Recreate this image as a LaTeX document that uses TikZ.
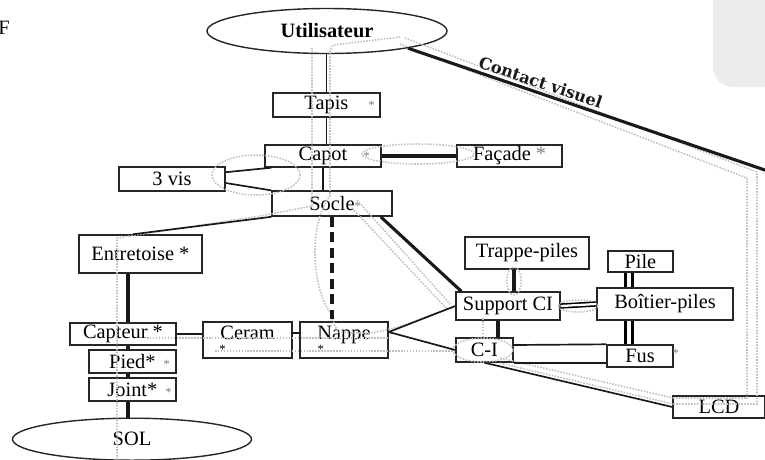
\documentclass[tikz,border=0pt]{standalone}
\usepackage{fontspec}
\setmainfont{Liberation Serif}
\newfontfamily\visfont{DejaVu Serif}
\usepackage{tikz}
\usetikzlibrary{arrows, shapes, calc}
\tikzset{-, font=\fontsize{14.5}{16}\selectfont,
  part/.style={rectangle,draw=black!85,line width=1pt,inner sep=1pt},
  actor/.style={ellipse,draw=black!85,line width=1pt,inner sep=0pt},
  link/.style={line width=1.2pt,black!90},
  heavy/.style={line width=2.2pt,black!90},
  flow/.style={gray!50,densely dotted,line width=1.1pt}}
\newcommand{\gstar}[1]{\rlap{\hspace{#1}\textcolor{gray}{\small *}}}

\begin{document}
\begin{tikzpicture}[y=-1cm]
%\draw[help lines] (0,0) grid (19,11);
\useasboundingbox (0,0) rectangle (19.125,11.475);
% shading of the scan, top right
\fill[gray!15, rounded corners=0.5cm] (17.825,-0.5) rectangle (19.7,2.175);

\path (-0.05,0.7) node(f) [anchor=west,inner sep=0pt] {F}
(8.175,0.775) node(user) [actor,minimum width=6cm,minimum height=1.125cm] {\textbf{Utilisateur}}
(8.16,2.625) node(tapis) [part,minimum width=2.675cm,minimum height=0.6cm] {Tapis\gstar{0.5cm}}
(8.075,3.9) node(capot) [part,minimum width=2.9cm,minimum height=0.55cm] {Capot\gstar{0.4cm}}
(12.74,3.9) node(facade) [part,minimum width=2.625cm,minimum height=0.55cm] {Façade \textcolor{gray}{*}}
(4.3,4.475) node(vis) [part,minimum width=2.65cm,minimum height=0.6cm] {3 vis}
(8.3,5.09) node(socle) [part,minimum width=3cm,minimum height=0.625cm] {Socle\gstar{0pt}}
(3.51,6.35) node(entretoise) [part,minimum width=3.075cm,minimum height=0.95cm] {Entretoise *}
(3.075,8.35) node(capteur) [part,minimum width=2.65cm,minimum height=0.55cm] {Capteur *}
(3.31,9.04) node(pied) [part,minimum width=2.175cm,minimum height=0.575cm] {Pied*\gstar{0.2cm}}
(3.31,9.74) node(joint) [part,minimum width=2.175cm,minimum height=0.575cm] {Joint*\gstar{0.2cm}}
(3.3,10.98) node(sol) [actor,minimum width=5.975cm,minimum height=1.05cm] {SOL}
(6.19,8.5) node(ceram) [part,align=center,minimum width=2.225cm,minimum height=0.9cm] {Ceram\\[-6pt]\llap{{\small *}\hspace{0.55cm}}}
(8.6,8.5) node(nappe) [part,align=center,minimum width=2.2cm,minimum height=0.9cm] {Nappe\\[-6pt]\llap{{\small *}\hspace{0.5cm}}}
(13.175,6.325) node(trappe) [part,minimum width=3.1cm,minimum height=0.8cm] {Trappe-piles}
(12.7,7.65) node(support) [part,minimum width=2.6cm,minimum height=0.7cm] {Support CI}
(16.01,6.54) node(pile) [part,minimum width=1.625cm,minimum height=0.525cm] {Pile}
(16.625,7.6) node(boitier) [part,minimum width=3.4cm,minimum height=0.8cm] {Boîtier-piles}
(12.11,8.75) node(ci) [part,minimum width=1.425cm,minimum height=0.6cm] {C-I}
(16.0,8.9) node(fus) [part,minimum width=1.65cm,minimum height=0.55cm] {Fus\rlap{\hspace{0.45cm}\raisebox{4pt}{\textcolor{gray}{\small *}}}}
(17.975,10.175) node(lcd) [part,minimum width=2.3cm,minimum height=0.55cm] {LCD};

\coordinate (spine) at (3.2,0);
\coordinate (pb) at (15.725,0);
\coordinate (rim) at (20.0,4.55);

% grey flows drawn over the scan
\draw[flow] (10.125,0.95) -- (18.925,4.3) -- (18.925,10.1) -- (lcd.west |- 0,10.1);
\draw[flow] (10.0,1.1) -- (18.675,4.45) -- (18.675,9.95) -- (lcd.west |- 0,9.95);
\draw[flow] (7.8,1.2) -- (7.8,5.15) -- (6.5,5.4) -- (2.925,5.95) -- (2.925,11.6);
\draw[flow] (10.0,0.925) -- (8.325,1.125) -- (8.25,1.25) -- (8.25,4.9)
  .. controls (7.7,5.6) and (7.8,7.2) .. (8.25,7.8) .. controls (8.35,8.1) .. (8.45,8.3)
  -- (9.2,8.33) .. controls (10.2,8.2) and (10.8,7.8) .. (11.325,7.7);
\draw[flow] (12.075,7.95) -- (12.075,8.45);
\draw[flow] (8.925,5.0) -- (11.25,7.6);
\draw[flow] (8.8,5.2) -- (11.15,7.7);
\draw[flow] (3.675,8.45) -- (9.7,8.45);
\draw[flow] (5.375,8.775) -- (11.325,8.775);
\draw[flow] (12.5,8.95) -- (16.825,9.95);
\draw[flow] (12.5,9.08) -- (16.825,10.1);
\draw[flow] (6.4,4.375) ellipse (1.1cm and 0.5cm);
\draw[flow] (10.45,3.85) ellipse (1.4cm and 0.25cm);
\draw[flow] (12.85,7.025) ellipse (0.18cm and 0.35cm);
\draw[flow] (14.45,7.65) ellipse (0.5cm and 0.15cm);
\draw[flow] (12.075,8.75) ellipse (0.75cm and 0.3cm);

\draw[link] (tapis.north) -- (tapis.north |- user.south);
\draw[link] (tapis.south) -- (tapis.south |- capot.north);
\draw[link] (capot.south) -- (capot.south |- socle.north);
\draw[heavy] (capot.east) -- (facade.west);
\draw[link] ([yshift=0.17cm]vis.east) -- ([xshift=0.175cm]capot.south west);
\draw[link] ([yshift=-0.1cm]vis.east) -- (socle.north west);
\draw[link] (socle.south west) -- ([xshift=-0.19cm]entretoise.north);
\draw[heavy] (spine |- entretoise.south) -- (spine |- capteur.north);
\draw[heavy] (spine |- capteur.south) -- (spine |- pied.north);
\draw[heavy] (spine |- pied.south) -- (spine |- joint.north);
\draw[heavy] (spine |- joint.south) -- (spine |- sol.north);
\draw[link] (capteur.east) -- (ceram.west |- capteur.east);
\draw[link] ([yshift=0.17cm]ceram.east) -- ([yshift=0.17cm]nappe.west);
\draw[heavy, dash pattern=on 7pt off 4pt] (socle.south) -- (socle.south |- nappe.north);
\draw[heavy] ([xshift=-0.3cm]socle.south east) -- ([xshift=0.15cm]support.north west);
\draw[link] ([yshift=0.2cm]nappe.east) -- (support.west);
\draw[link] ([yshift=0.2cm]nappe.east) -- (ci.west);
\draw[heavy] ([xshift=0.15cm]support.north) -- ([xshift=0.15cm]support.north |- trappe.south);
\draw[heavy] ([xshift=-0.25cm]support.south) -- ([xshift=-0.25cm]support.south |- ci.north);
\draw[line width=1.1pt, double, double distance=1.6pt] (support.east) -- (boitier.west);
\draw[line width=1.6pt, double, double distance=0.12cm] (pb |- pile.south) -- (pb |- boitier.north);
\draw[line width=1.6pt, double, double distance=0.12cm] (pb |- boitier.south) -- (pb |- fus.north);
\draw[link] ([yshift=0.125cm]ci.east) -- (fus.north west);
\draw[link] (ci.south east) -- (fus.west |- ci.south east);
\draw[link] (ci.south) -- (lcd.west);
\draw[heavy] (user.-12) -- (rim)
  node[sloped,above,pos=0.33,inner sep=2pt,font={\visfont\fontsize{11.5}{13}\selectfont\bfseries}] {Contact visuel};
\end{tikzpicture}
\end{document}
